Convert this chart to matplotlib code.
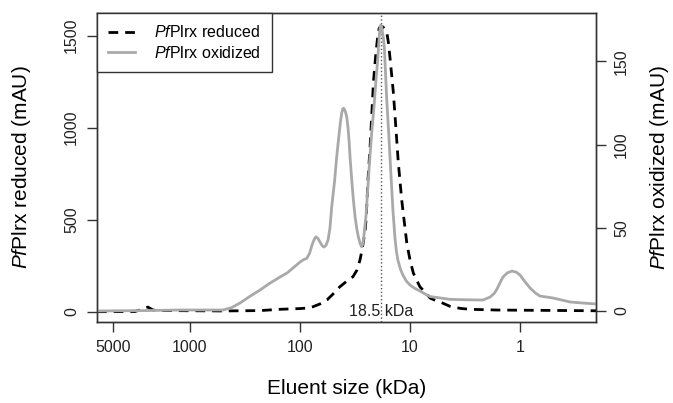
import matplotlib
matplotlib.use('Agg')
import matplotlib.pyplot as plt

plt.rcParams['font.family'] = 'Liberation Sans'
plt.rcParams['mathtext.fontset'] = 'custom'
plt.rcParams['mathtext.rm'] = 'Liberation Sans'
plt.rcParams['mathtext.it'] = 'Liberation Sans:italic'

# eluent size (kDa) and absorbance (mAU)
size_red = [7000, 3160, 2675, 2410, 2170, 1690, 500, 231, 152, 100, 85, 76.2,
            65.8, 56.8, 50.1, 43.3, 37.4, 33.0, 30.3, 28.5, 27.3, 25.7, 25.1,
            24.1, 23.1, 22.2, 21.5, 20.5, 19.8, 19.1, 18.4, 17.6, 16.9, 16.3,
            15.7, 15.2, 14.2, 13.5, 12.8, 11.9, 10.7, 10.0, 9.33, 8.6, 8.1,
            7.3, 6.58, 5.9, 5.34, 4.33, 3.5, 2.85, 1.62, 0.2]
mau_red = [0, 1, 15, 25, 9, 6, 4, 6, 13, 17, 20, 27,
           42, 64, 96, 136, 167, 190, 227, 281, 335, 433, 498,
           716, 890, 1085, 1248, 1395, 1480, 1539, 1553, 1547, 1535, 1522,
           1460, 1379, 1196, 1015, 815, 607, 373, 281, 210, 165, 134,
           107, 74, 62, 53, 29, 18, 13, 9, 5]

size_ox = [7000, 2310, 1233, 501, 420, 351, 290, 231, 190, 152, 130, 116,
           100, 93, 86.9, 82, 77.8, 74.5, 71.6, 68.5, 65.8, 62.8, 60.5,
           58, 55.6, 53.4, 51.5, 48.5, 46.4, 44.5, 43.0, 41.8, 40.9, 40.2,
           39.3, 38.4, 37.6, 36.6, 35.8, 35.1, 33.8, 32.7, 31.5, 30.4, 29.5,
           28.4, 27.5, 26.8, 26.2, 25.1, 24.1, 23.1, 22.2, 21.2, 20.4, 19.7,
           19.1, 18.8, 18.5, 18.1, 17.8, 17.4, 17.1, 16.3, 15.5, 14.9, 14.3,
           13.7, 13.3, 12.9, 12.2, 11.6, 10.8, 10.0, 9.0, 8.1, 7.2, 6.58,
           4.33, 2.85, 2.17, 1.87, 1.72, 1.62, 1.52, 1.43, 1.3, 1.18, 1.08,
           1.0, 0.9, 0.81, 0.73, 0.66, 0.5, 0.35, 0.27, 0.2]
mau_ox = [0, 0.3, 0.6, 0.6, 2.0, 4.8, 8.5, 12.6, 16.5, 20.4, 23.0, 25.8,
          29.4, 30.8, 31.6, 34.5, 39.6, 42.8, 44.6, 43.5, 41.4, 39.2, 38.4,
          39.5, 42.6, 50.0, 62.6, 78.0, 92.6, 104.0, 113.0, 118.8, 121.3, 121.8,
          121.0, 119.0, 116.6, 110.0, 102.0, 92.6, 78.0, 66.6, 56.0, 49.0, 44.6,
          40.5, 38.6, 40.5, 45.6, 57.6, 75.6, 93.6, 108.6, 123.6, 138.6, 150.6,
          163.8, 169.0, 171.6, 171.0, 167.4, 163.0, 157.8, 127.8, 102.6, 81.6, 60.6,
          43.8, 36.0, 30.6, 25.0, 21.6, 18.0, 15.6, 13.5, 12.0, 10.0, 8.7,
          7.0, 6.7, 6.6, 8.4, 10.5, 13.2, 17.0, 20.4, 23.0, 24.0, 23.3,
          21.6, 17.5, 13.8, 11.0, 9.0, 7.8, 5.4, 4.8, 4.2]

marker_kda = 18.5
x_ticks = [5000, 1000, 100, 10, 1]
red_ticks = [0, 500, 1000, 1500]
ox_ticks = [0, 50, 100, 150]

fs = 11.5
edge = '#333333'

fig = plt.figure(figsize=(6.73, 4.03), dpi=100)
ax = fig.add_axes([97/673, 1 - 322/403, 499/673, 309/403])
ax2 = ax.twinx()

l1, = ax.plot(size_red, mau_red, color='black', lw=2, ls=(0, (3.5, 2.5)))
l2, = ax2.plot(size_ox, mau_ox, color='#a9a9a9', lw=2)
ax.axvline(marker_kda, color='#555555', lw=1, ls=':')
ax.text(marker_kda, 0, '18.5 kDa', ha='center', va='center', fontsize=fs, color='#222222')

ax.set_xscale('log')
ax.set_xlim(7000, 0.204)
ax.set_ylim(-56, 1623)
ax2.set_ylim(-6.6, 179)

ax.set_xticks(x_ticks)
ax.set_xticklabels([str(t) for t in x_ticks])
ax.xaxis.set_minor_locator(matplotlib.ticker.NullLocator())
ax.set_yticks(red_ticks)
ax2.set_yticks(ox_ticks)

for a in (ax, ax2):
    a.tick_params(direction='out', length=7, width=1, color=edge,
                  labelsize=fs, labelcolor='#222222')
    for s in a.spines.values():
        s.set_color(edge)
        s.set_linewidth(1)
ax.tick_params(axis='x', pad=6)
ax.tick_params(axis='y', pad=6, labelrotation=90)
ax2.tick_params(axis='y', pad=6, labelrotation=90)
plt.setp(ax.get_yticklabels(), va='center')
plt.setp(ax2.get_yticklabels(), va='center')

ax.set_xlabel('Eluent size (kDa)', fontsize=15, va='center')
ax.xaxis.set_label_coords(0.5, -0.214)
ax.set_ylabel(r'$\mathit{Pf}$Plrx reduced (mAU)', fontsize=15, va='center')
ax.yaxis.set_label_coords(-0.152, 0.5)
ax2.set_ylabel(r'$\mathit{Pf}$Plrx oxidized (mAU)', fontsize=15, va='center')
ax2.yaxis.set_label_coords(1.128, 0.5)

leg = ax2.legend([l1, l2], [r'$\mathit{Pf}$Plrx reduced', r'$\mathit{Pf}$Plrx oxidized'],
                 loc='upper left', bbox_to_anchor=(0, 1), borderaxespad=0,
                 fontsize=fs, fancybox=False, framealpha=1, edgecolor=edge,
                 handlelength=1.7, handletextpad=1.2, borderpad=0.7,
                 labelspacing=0.3)
leg.get_frame().set_linewidth(1)

fig.savefig('out.png', dpi=100)
